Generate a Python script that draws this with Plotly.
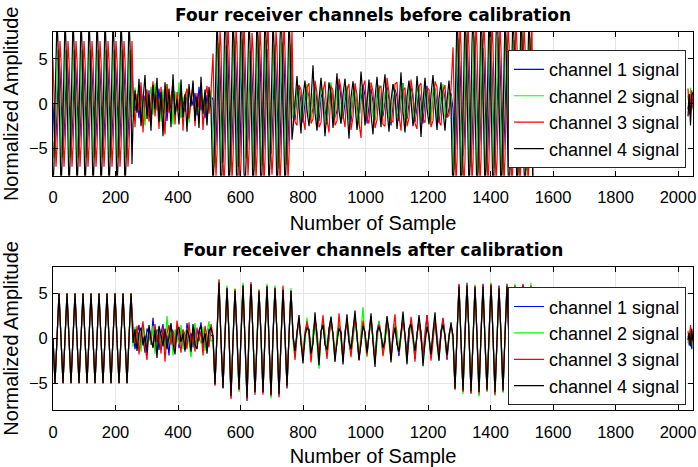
import plotly.graph_objects as go

# ---------------- data (sample index grids + channel values) ----------------
X_TICKS = [0, 200, 400, 600, 800, 1000, 1200, 1400, 1600, 1800, 2000]
Y_TICKS = [-5, 0, 5]
CHANNEL_NAMES = ["channel 1 signal", "channel 2 signal", "channel 3 signal", "channel 4 signal"]
CHANNEL_COLORS = ["#0000ff", "#00ff00", "#ff0000", "#000000"]

# segment (start sample, sample step) for each block of values
TOP_SPEC = [(0, 3.2), (256, 6.4), (512, 3.2), (768, 6.4), (1280, 3.2), (2032, 4)]
BOTTOM_SPEC = [(0, 6.4), (256, 6.4), (512, 6.4), (768, 6.4), (1280, 6.4), (2032, 4)]

# ----- before calibration -----
before_ch1_a = [0,-3.5,-5,-3.5,0,3.5,5,3.5, 0,-3.5,-5,-3.5,0,3.5,5,3.5, 0,-3.5,-5,-3.5,0,3.5,5,3.5,
                0,-3.5,-5,-3.5,0,3.5,5,3.5, 0,-3.5,-5,-3.5,0,3.5,5,3.5, 0,-3.5,-5,-3.5,0,3.5,5,3.5,
                0,-3.5,-5,-3.5,0,3.5,5,3.5, 0,-3.5,-5,-3.5,0,3.5,5,3.5, 0,-3.5,-5,-3.5,0,3.5,5,3.5,
                0,-3.5,-5,-3.5,0,3.5,5,3.5]
before_ch2_a = [-4.2,-6,-4.2,0,4.2,6,4.2,0, -4.2,-6,-4.2,0,4.2,6,4.2,0, -4.2,-6,-4.2,0,4.2,6,4.2,0,
                -4.2,-6,-4.2,0,4.2,6,4.2,0, -4.2,-6,-4.2,0,4.2,6,4.2,0, -4.2,-6,-4.2,0,4.2,6,4.2,0,
                -4.2,-6,-4.2,0,4.2,6,4.2,0, -4.2,-6,-4.2,0,4.2,6,4.2,0, -4.2,-6,-4.2,0,4.2,6,4.2,0,
                -4.2,-6,-4.2,0,4.2,6,4.2,0]
before_ch3_a = [4.9,0,-4.9,-7,-4.9,0,4.9,7, 4.9,0,-4.9,-7,-4.9,0,4.9,7, 4.9,0,-4.9,-7,-4.9,0,4.9,7,
                4.9,0,-4.9,-7,-4.9,0,4.9,7, 4.9,0,-4.9,-7,-4.9,0,4.9,7, 4.9,0,-4.9,-7,-4.9,0,4.9,7,
                4.9,0,-4.9,-7,-4.9,0,4.9,7, 4.9,0,-4.9,-7,-4.9,0,4.9,7, 4.9,0,-4.9,-7,-4.9,0,4.9,7,
                4.9,0,-4.9,-7,-4.9,0,4.9,7]
before_ch4_a = [-9.5,-6.7,0,6.7,9.5,6.7,0,-6.7, -9.5,-6.7,0,6.7,9.5,6.7,0,-6.7, -9.5,-6.7,0,6.7,9.5,6.7,0,-6.7,
                -9.5,-6.7,0,6.7,9.5,6.7,0,-6.7, -9.5,-6.7,0,6.7,9.5,6.7,0,-6.7, -9.5,-6.7,0,6.7,9.5,6.7,0,-6.7,
                -9.5,-6.7,0,6.7,9.5,6.7,0,-6.7, -9.5,-6.7,0,6.7,9.5,6.7,0,-6.7, -9.5,-6.7,0,6.7,9.5,6.7,0,-6.7,
                -9.5,-6.7,0,6.7,9.5,6.7,0,-6.7]

before_ch1_b = [1.2,-0.8,0.5,-1.6,1.9,-0.3,0.9,-1.2,1.5,-1.8,
                0.4,1.1,-0.6,1.7,-1.4,0.2,1.3,-1.9,0.8,-0.5,
                1.6,-1.1,0.3,1.8,-1.5,0.6,-0.9,1.4,-1.7,0.9,
                -0.2,1.2,-1.3,1.9,-0.7,0.5,-1.6,1.0,-0.4,0.8]
before_ch2_b = [-1.5,1.8,-0.6,2.1,-1.9,0.7,-2.4,1.3,-0.4,1.9,
                -1.2,2.3,-0.8,0.5,-2.0,1.6,-1.1,2.2,-0.3,1.0,
                -2.3,1.4,-0.9,2.4,-1.6,0.8,-0.2,1.7,-2.1,0.6,
                1.9,-1.3,0.4,-1.8,2.0,-0.7,1.2,-2.2,0.9,1.5]
before_ch3_b = [2.0,-2.6,1.1,-0.7,2.4,-3.2,0.8,1.6,-2.0,0.3,
                2.5,-1.4,1.0,-2.8,1.9,-0.5,-3.4,2.2,-1.0,0.6,
                2.6,-2.3,1.3,-0.8,2.1,-3.0,0.9,1.7,-1.6,0.2,
                2.3,-2.5,1.2,-0.4,1.8,-2.9,0.7,2.0,-1.1,1.4]
before_ch4_b = [-2.2,1.5,-1.0,2.8,-2.5,0.4,3.2,-1.7,1.0,-3.0,
                2.1,-0.6,2.9,-2.0,1.3,-3.6,2.4,-0.9,1.7,-2.6,
                3.3,-1.2,0.5,-2.3,2.7,-1.5,1.1,-3.1,2.2,-0.3,
                2.6,-1.9,0.8,-2.7,3.0,-1.1,1.6,-2.4,1.9,-0.6]

before_ch1_c = [0.5,-3.6,-5.5,-4.2,0.3,4.5,6.0,3.8, -0.4,-4.8,-6.5,-4.1,0.8,4.2,6.4,4.9,
                0.2,-4.5,-6.1,-3.9,-0.5,4.6,5.7,4.0, 0.7,-5.2,-7.0,-4.6,0.4,4.8,6.9,4.3,
                -0.6,-3.4,-5.0,-3.8,0.9,3.9,5.3,3.2, 0.3,-4.9,-6.6,-4.3,-0.2,4.7,6.3,4.8,
                0.6,-4.0,-5.9,-4.4,0.5,4.1,6.1,4.0, -0.3,-3.8,-5.6,-3.7,0.2,4.4,5.8,3.6,
                0.4,-4.7,-6.4,-4.5,-0.6,4.5,6.6,4.6, 0.8,-4.1,-6.0,-4.0,0.1,4.3,5.9,3.1]
before_ch2_c = [-4.8,-7.1,-5.2,0.4,4.9,6.8,5.1,-0.3, -4.4,-6.6,-4.7,-0.5,4.3,6.5,4.8,0.6,
                -5.5,-7.6,-5.1,0.2,5.2,7.4,5.6,-0.4, -4.9,-7.0,-4.6,0.7,5.0,7.2,4.7,0.3,
                -4.0,-6.1,-4.5,-0.2,4.4,5.9,4.1,0.5, -5.3,-7.5,-5.4,0.3,5.5,7.6,5.0,-0.6,
                -4.7,-6.9,-5.0,0.6,4.8,7.1,4.9,0.2, -4.6,-6.4,-4.3,-0.3,4.5,6.6,4.4,0.4,
                -5.1,-7.2,-4.8,0.5,5.1,6.9,5.3,-0.2, -4.8,-6.8,-4.9,0.1,4.6,6.7,4.7,0.3]
before_ch3_c = [5.6,0.3,-5.8,-8.1,-5.5,0.4,5.9,8.2, 6.4,-0.5,-6.2,-9.0,-6.5,-0.2,6.3,9.1,
                6.0,0.6,-5.9,-8.6,-6.1,0.3,5.8,8.4, 6.7,-0.3,-6.8,-9.6,-6.6,0.5,6.9,9.4,
                5.5,0.2,-5.7,-8.0,-5.6,-0.4,5.6,7.9, 6.1,0.5,-6.0,-8.4,-5.9,0.2,6.2,8.6,
                6.3,-0.4,-6.4,-9.1,-6.3,0.6,6.4,8.9, 5.7,0.1,-5.6,-7.9,-5.8,-0.3,5.5,8.1,
                6.4,0.4,-6.3,-9.0,-6.4,0.2,6.5,9.2, 5.9,-0.2,-6.1,-8.5,-5.9,0.3,6.0,8.3]
before_ch4_c = [-9.4,-6.6,0.5,6.8,9.6,6.5,-0.3,-6.9, -10.4,-7.5,-0.4,7.3,10.6,7.6,0.6,-7.2,
                -10.1,-7.0,0.3,7.1,9.9,6.9,-0.5,-7.1, -11.0,-7.8,0.6,7.9,11.1,7.7,0.2,-7.6,
                -9.3,-6.7,-0.2,6.6,9.5,6.8,0.4,-6.5, -10.0,-7.1,0.4,7.0,10.1,7.2,-0.6,-7.0,
                -10.6,-7.4,-0.3,7.5,10.4,7.3,0.5,-7.4, -9.6,-6.5,0.2,6.7,9.4,6.6,-0.4,-6.8,
                -10.1,-7.2,0.6,7.0,10.0,7.1,0.3,-7.0, -9.8,-6.9,-0.5,6.9,9.7,6.8,0.2,-4.0]

before_ch1_d = [0.4,-1.8,0.9,2.0,-0.3,-2.1,0.2,1.6,0.8,-1.4,
                -0.5,2.2,0.1,-1.9,0.7,1.4,-0.6,-2.3,0.5,1.9,
                0.3,-1.5,-0.8,2.4,0.6,-1.7,0.2,1.8,-0.4,-2.0,
                1.0,1.5,-0.2,-1.6,0.4,2.1,0.9,-2.2,-0.3,1.7,
                0.2,-1.8,0.6,2.0,-0.7,-1.4,0.3,1.9,0.5,-2.4,
                -0.1,1.6,0.8,-1.9,0.4,2.3,-0.5,-1.7,0.1,1.8,
                0.6,-2.0,-0.4,1.5,0.2,-2.2,0.7,2.0,-0.3,-1.6,
                0.9,1.7,-0.2,-2.1,0.3,1.9,0.5,-1.5,-0.6,1.2]
before_ch2_d = [-1.6,-1.2,1.8,1.5,-2.0,-0.9,1.4,2.2,-1.3,-1.8,
                1.1,1.7,-2.4,-1.0,2.0,1.3,-1.5,-2.1,0.9,2.4,
                -1.1,-1.6,1.9,1.2,-2.2,-0.7,1.6,2.0,-1.8,-1.3,
                1.2,1.8,-1.0,-2.5,1.7,1.4,-1.9,-1.1,2.3,0.9,
                -1.4,-1.9,1.5,2.1,-2.1,-0.8,1.3,1.6,-1.7,-2.0,
                2.2,1.1,-1.2,-1.5,1.0,2.3,-2.3,-1.2,1.8,1.4,
                -1.6,-1.7,1.4,2.0,-1.9,-0.9,2.1,1.3,-1.1,-2.2,
                1.6,1.7,-2.0,-1.4,1.1,2.2,-1.5,-1.0,1.3,0.8]
before_ch3_d = [1.9,-2.0,-2.4,2.1,1.6,-1.5,-2.9,1.8,2.3,-2.2,
                -1.7,2.6,1.2,-2.6,-2.1,1.4,2.5,-1.8,-3.2,2.0,
                1.5,-2.4,-1.9,2.8,1.7,-1.3,-2.6,1.6,2.2,-2.9,
                -1.5,2.3,1.0,-2.1,-3.8,1.9,2.6,-1.6,-2.2,2.4,
                1.4,-2.7,-1.8,1.7,2.0,-2.3,-2.5,2.9,1.3,-1.9,
                -2.0,2.2,2.4,-1.4,-3.0,1.5,1.8,-2.5,-1.6,2.7,
                1.1,-2.2,-2.8,2.0,2.3,-1.7,-2.1,1.8,1.6,-2.6,
                -1.9,2.5,1.9,-2.0,-2.4,1.4,2.1,-1.5,-1.3,1.6]
before_ch4_d = [-2.8,0.6,3.1,-0.4,-3.3,0.9,2.6,-0.7,-2.5,0.3,
                4.3,-1.0,-3.0,0.5,2.9,0.2,-3.6,-0.6,2.4,1.1,
                -2.7,0.4,3.4,-0.8,-2.2,1.0,2.8,-0.3,-3.9,0.7,
                2.5,0.1,-2.9,-0.5,3.6,0.8,-2.4,0.2,2.7,-1.1,
                -3.4,0.6,3.0,-0.2,-2.6,1.2,3.3,-0.6,-3.1,0.4,
                2.2,0.9,-2.8,-0.4,3.5,-0.9,-3.2,0.8,2.6,0.3,
                -2.5,-0.7,3.1,0.5,-3.7,0.2,2.9,-0.5,-2.3,1.0,
                3.2,-0.1,-2.9,0.6,2.4,-0.8,-3.0,0.3,2.6,-0.4]

before_ch1_e = [-0.5,-4.3,-6.2,-4.0,0.4,3.9,5.6,4.1, 0.6,-3.9,-5.8,-4.4,-0.3,4.6,6.4,4.5,
                -0.2,-4.6,-6.6,-4.1,0.7,4.0,5.9,3.7, 0.3,-3.7,-5.5,-3.9,-0.4,4.4,6.2,4.6,
                0.5,-4.4,-6.3,-4.5,0.2,4.2,5.7,3.9, -0.6,-4.1,-5.9,-3.8,0.6,4.7,6.5,4.3,
                0.2,-4.5,-6.4,-4.2,-0.5,3.8,5.5,4.0, 0.7,-3.8,-5.7,-4.3,0.3,4.5,6.3,4.4,
                -0.3,-4.7,-6.5,-4.0,0.5,4.1,6.0,3.8, 0.4,-4.0,-6.1,-4.4,-0.2,4.3,5.8,4.2, 0.1]
before_ch2_e = [-5.2,-7.4,-5.5,0.3,5.0,7.3,5.4,-0.4, -5.6,-7.9,-5.3,-0.5,5.5,7.8,5.2,0.6,
                -4.9,-7.1,-5.0,0.4,5.3,7.5,5.6,0.2, -5.4,-7.7,-5.7,-0.3,5.1,7.2,5.0,-0.6,
                -5.3,-7.6,-5.2,0.6,5.6,7.9,5.5,0.3, -5.0,-7.2,-5.4,-0.2,5.2,7.4,5.1,-0.5,
                -5.7,-8.0,-5.6,0.5,5.4,7.6,5.3,0.4, -5.1,-7.3,-4.9,-0.4,5.0,7.1,5.4,0.2,
                -5.5,-7.8,-5.5,0.3,5.7,8.0,5.6,-0.3, -5.2,-7.5,-5.3,0.1,5.3,7.4,4.8,0.0, -4.9]
before_ch3_e = [6.3,0.4,-6.2,-8.9,-6.4,-0.3,6.1,9.0, 6.6,-0.5,-6.5,-9.3,-6.2,0.6,6.4,9.2,
                6.0,0.3,-6.3,-8.8,-6.5,-0.2,6.6,9.4, 6.5,-0.4,-6.0,-9.1,-6.3,0.5,6.2,8.8,
                6.2,0.6,-6.6,-9.4,-6.1,-0.4,6.5,9.3, 6.4,-0.2,-6.1,-8.7,-6.6,0.3,6.3,9.1,
                6.1,0.5,-6.4,-9.2,-6.0,-0.6,6.0,8.9, 6.7,-0.3,-6.3,-9.0,-6.4,0.2,6.6,9.5,
                6.3,0.4,-6.5,-9.3,-6.2,-0.5,6.2,9.0, 6.4,-0.1,-6.2,-8.9,-6.5,0.3,6.1,8.7, -8.5]
before_ch4_e = [-10.2,-7.1,0.4,7.2,10.1,7.0,-0.5,-7.3, -10.5,-7.4,-0.3,7.5,10.6,7.3,0.6,-7.0,
                -9.8,-6.9,0.5,6.8,9.7,7.1,-0.2,-7.2, -10.4,-7.3,-0.6,7.4,10.3,7.4,0.3,-7.5,
                -10.0,-7.0,0.2,7.1,10.2,6.9,-0.4,-6.8, -10.6,-7.5,0.6,7.3,10.5,7.5,0.2,-7.4,
                -9.9,-7.2,-0.4,6.9,9.8,7.2,-0.6,-7.1, -10.3,-7.0,0.3,7.6,10.4,7.1,0.5,-7.3,
                -10.1,-7.4,-0.2,7.0,10.0,7.3,-0.3,-7.2, -9.7,-6.8,0.4,7.2,9.9,6.6,0.1,-6.5, -9.5]

before_ch1_f = [-0.6, 0.8, -1.0, 0.5, -0.3]
before_ch2_f = [0.9, -0.4, 1.8, -0.7, 0.6]
before_ch3_f = [1.7, -1.2, 0.6, 1.5, -0.5]
before_ch4_f = [-1.4, 1.1, -2.4, 0.9, 1.3]

# ----- after calibration -----
after_all_a = [0,-5,0,5, 0,-5,0,5, 0,-5,0,5, 0,-5,0,5, 0,-5,0,5,
               0,-5,0,5, 0,-5,0,5, 0,-5,0,5, 0,-5,0,5, 0,-5,0,5]

after_ch1_b = [0.8,-1.2,0.4,1.5,-0.9,0.2,-1.6,1.1,0.5,-0.7,
               2.3,-0.4,1.0,-1.3,0.6,1.6,-0.8,0.3,-1.9,1.2,
               0.7,-0.5,1.4,-1.1,0.2,0.9,-1.5,1.7,-0.3,0.6,
               -1.0,1.3,-0.6,0.4,1.8,-1.2,0.5,-0.9,1.1,0.3]
after_ch2_b = [-0.9,1.3,-0.2,0.7,-1.5,1.6,0.4,-1.1,0.9,-0.6,
               1.4,-1.7,0.3,1.2,-0.8,0.5,-1.3,2.5,-0.4,0.8,
               -1.9,1.0,0.2,-0.7,1.5,-1.2,0.6,1.1,-0.5,-2.1,
               0.9,1.7,-1.0,0.4,-0.6,1.3,-1.4,0.7,1.9,-0.3]
after_ch3_b = [1.1,-0.6,1.4,-1.8,0.5,1.9,-0.9,-2.4,1.2,0.3,
               -1.1,1.6,-0.4,0.8,-1.7,1.3,-2.6,0.6,1.5,-0.7,
               0.9,-1.4,2.0,-0.2,-1.6,1.0,0.4,-1.2,1.8,-0.8,
               0.7,-1.5,1.2,-0.3,0.8,-1.9,1.4,0.2,-1.0,1.6]
after_ch4_b = [-0.5,1.0,-1.4,0.6,1.2,-0.8,0.3,-1.6,1.5,-0.2,
               -1.0,0.9,-2.2,1.4,0.4,-0.9,1.1,-1.2,0.2,1.7,
               -0.6,-1.8,0.8,1.3,-0.4,0.5,-1.3,1.0,0.3,-1.5,
               1.6,-0.7,-1.2,0.9,1.4,-0.5,0.6,-1.7,0.8,1.2]

after_ch1_c = [0.3,-5.2,0.5,6.3, -0.4,-5.6,0.2,5.7, 0.6,-6.6,-0.3,5.4, 0.4,-5.8,0.1,6.0, -0.5,-7.0,0.6,6.1,
               0.2,-6.3,-0.4,5.3, 0.5,-6.1,0.3,5.9, -0.2,-6.5,0.4,5.7, 0.3,-6.4,-0.5,5.5, 0.6,-5.6,0.2,5.4]
after_ch2_c = [-0.2,-5.0,0.4,6.5, 0.3,-5.4,-0.3,5.9, 0.5,-6.4,0.2,5.6, -0.4,-6.0,0.6,6.2, 0.1,-6.6,-0.2,6.0,
               0.4,-6.2,0.3,5.5, -0.3,-5.9,0.5,6.1, 0.2,-6.7,-0.4,5.9, 0.6,-6.2,0.1,5.7, -0.1,-5.4,0.3,5.6]
after_ch3_c = [0.4,-5.3,0.2,6.6, -0.3,-5.5,0.5,5.6, 0.2,-6.8,-0.4,5.5, 0.5,-5.7,0.2,5.8, -0.2,-6.8,0.4,6.3,
               0.3,-6.1,-0.5,5.4, 0.2,-6.3,0.6,5.8, -0.4,-6.4,0.3,5.6, 0.5,-6.6,-0.2,5.9, 0.3,-5.5,0.4,5.3]
after_ch4_c = [0.1,-5.1,0.3,6.2, -0.2,-5.5,0.4,5.6, 0.3,-6.4,-0.2,5.3, 0.2,-5.7,0.3,5.9, -0.3,-6.6,0.5,6.0,
               0.2,-6.0,-0.3,5.2, 0.4,-6.0,0.2,5.8, -0.1,-6.3,0.3,5.6, 0.4,-6.2,-0.3,5.4, 0.2,-5.3,0.3,5.3]

after_ch1_d = [0.5,-1.9,0.8,2.1, -0.3,-2.2,0.4,1.6, 1.0,-1.5,-0.4,2.4, 0.2,-2.6,0.7,1.8, -0.6,-1.7,1.1,2.2,
               0.3,-2.0,-0.2,1.5, 0.8,-2.4,0.5,2.0, -0.4,-1.6,0.9,2.5, 0.1,-2.1,-0.5,1.7, 0.6,-1.8,0.3,2.3,
               -0.2,-2.5,0.8,1.9, 0.4,-1.4,-0.3,2.1, 0.9,-2.2,0.2,1.6, -0.5,-2.0,0.6,2.4, 0.3,-1.7,1.0,1.8,
               -0.1,-2.3,0.4,2.0, 0.7,-1.9,-0.4,2.6, 0.2,-2.2,0.5,1.7, -0.3,-1.6,0.8,2.2, 0.4,-2.4,0.1,1.5]
after_ch2_d = [-0.3,-2.2,0.6,1.8, 0.4,-1.7,-0.5,2.3, 0.2,-2.4,0.9,1.6, -0.6,-3.4,0.3,2.1, 0.8,-1.9,-0.2,2.5,
               0.1,-2.6,0.7,1.7, -0.4,-2.0,0.5,2.2, 0.6,-1.5,-0.3,1.9, 0.3,-2.3,0.8,3.5, -0.2,-2.1,0.4,1.6,
               0.5,-2.5,-0.6,2.0, 0.2,-1.8,0.7,2.4, -0.5,-2.2,0.3,1.7, 0.9,-1.6,-0.1,2.3, 0.1,-2.7,0.6,1.8,
               -0.3,-2.0,0.4,2.1, 0.5,-2.3,-0.4,1.6, 0.3,-1.9,0.8,2.4, -0.6,-2.5,0.2,1.9, 0.4,-2.1,0.5,1.3]
after_ch3_d = [0.6,-2.4,0.3,2.3, -0.5,-1.8,0.7,1.9, 0.4,-2.7,-0.2,2.2, 0.8,-2.0,0.5,2.6, -0.3,-2.3,0.2,1.8,
               0.6,-1.7,-0.6,2.8, 0.2,-2.6,0.9,1.7, -0.4,-2.1,0.3,2.3, 0.7,-2.5,-0.1,2.0, 0.3,-1.9,0.6,2.5,
               -0.2,-2.8,0.4,1.6, 0.5,-2.0,-0.5,2.2, 0.1,-2.4,0.8,2.7, -0.6,-1.6,0.3,1.9, 0.4,-2.3,-0.2,2.4,
               0.8,-2.6,0.5,1.8, -0.3,-1.8,0.7,2.6, 0.2,-2.5,-0.4,2.1, 0.6,-2.0,0.3,2.3, -0.1,-2.2,0.5,1.4]
after_ch4_d = [0.2,-1.4,0.6,2.6, -0.5,-2.8,0.3,1.2, 0.9,-1.7,-0.6,2.9, 0.1,-3.0,0.8,1.5, -0.7,-1.3,1.0,2.4,
               0.4,-2.6,-0.4,1.1, 0.6,-2.9,0.2,2.7, -0.3,-1.2,0.9,3.1, 0.2,-2.4,-0.6,1.4, 0.7,-1.6,0.4,2.8,
               -0.4,-3.2,0.7,1.3, 0.5,-1.1,-0.2,2.5, 0.8,-2.7,0.1,1.2, -0.6,-1.5,0.6,3.0, 0.3,-2.9,1.1,1.6,
               0.1,-1.4,0.3,2.6, 0.6,-3.1,-0.5,1.3, 0.2,-1.8,0.7,2.9, -0.4,-2.5,0.8,1.5, 0.3,-1.9,0.1,1.8]

after_ch1_e = [0.3,-5.6,0.4,6.0, -0.2,-5.9,0.5,6.2, 0.4,-6.1,-0.3,5.8, 0.2,-6.3,0.6,6.1, -0.4,-5.8,0.3,6.0,
               0.5,-6.2,-0.2,5.9, 0.3,-6.0,0.4,6.1, -0.3,-5.7,0.2,5.8, 0.6,-6.1,-0.4,6.0, 0.2,-5.8,0.5,5.7, -6.3]
after_ch2_e = [-0.2,-5.8,0.5,5.9, 0.3,-6.2,-0.4,6.1, 0.5,-5.9,0.2,6.0, -0.3,-6.5,0.4,5.8, 0.2,-6.0,-0.2,6.2,
               0.4,-6.4,0.3,5.7, -0.5,-6.1,0.6,6.0, 0.3,-5.8,-0.3,6.1, 0.2,-6.3,0.4,5.9, -0.2,-5.9,0.3,6.2, -5.8]
after_ch3_e = [0.4,-5.7,0.2,6.1, -0.3,-6.0,0.6,6.0, 0.3,-6.2,-0.5,5.9, 0.5,-6.1,0.3,6.0, -0.2,-5.9,0.4,6.1,
               0.3,-6.3,-0.3,5.8, 0.5,-5.9,0.2,6.0, -0.4,-5.8,0.5,5.9, 0.3,-6.0,-0.2,6.1, 0.4,-5.7,0.3,5.9, -6.0]
after_ch4_e = [0.1,-5.6,0.3,5.8, -0.2,-5.8,0.4,5.9, 0.2,-5.9,-0.3,5.7, 0.3,-6.0,0.4,5.8, -0.3,-5.7,0.2,5.9,
               0.3,-6.0,-0.2,5.6, 0.4,-5.8,0.3,5.8, -0.2,-5.6,0.3,5.7, 0.4,-5.9,-0.3,5.8, 0.2,-5.6,0.4,5.6, -5.9]

after_ch1_f = [0.3, -0.8, 0.6, -1.2, 0.2]
after_ch2_f = [-0.5, 0.9, -0.7, 0.4, -1.0]
after_ch3_f = [0.8, -0.4, 1.5, -0.6, 0.5]
after_ch4_f = [-0.2, 0.6, -0.9, 1.1, -0.3]

BEFORE = [
    [before_ch1_a, before_ch1_b, before_ch1_c, before_ch1_d, before_ch1_e, before_ch1_f],
    [before_ch2_a, before_ch2_b, before_ch2_c, before_ch2_d, before_ch2_e, before_ch2_f],
    [before_ch3_a, before_ch3_b, before_ch3_c, before_ch3_d, before_ch3_e, before_ch3_f],
    [before_ch4_a, before_ch4_b, before_ch4_c, before_ch4_d, before_ch4_e, before_ch4_f],
]
AFTER = [
    [after_all_a, after_ch1_b, after_ch1_c, after_ch1_d, after_ch1_e, after_ch1_f],
    [after_all_a, after_ch2_b, after_ch2_c, after_ch2_d, after_ch2_e, after_ch2_f],
    [after_all_a, after_ch3_b, after_ch3_c, after_ch3_d, after_ch3_e, after_ch3_f],
    [after_all_a, after_ch4_b, after_ch4_c, after_ch4_d, after_ch4_e, after_ch4_f],
]


def build(segments, spec):
    xs, ys = [], []
    for i, (vals, (start, step)) in enumerate(zip(segments, spec)):
        if i == len(segments) - 1:      # data gap before the last short block
            xs.append(None)
            ys.append(None)
        xs.extend(start + step * k for k in range(len(vals)))
        ys.extend(vals)
    return xs, ys


FONT = "Liberation Sans, Arial, Helvetica, sans-serif"

fig = go.Figure()
for i in range(4):
    x, y = build(BEFORE[i], TOP_SPEC)
    fig.add_trace(go.Scatter(x=x, y=y, mode="lines", name=CHANNEL_NAMES[i],
                             line=dict(color=CHANNEL_COLORS[i], width=1.2),
                             xaxis="x", yaxis="y", legend="legend"))
for i in range(4):
    x, y = build(AFTER[i], BOTTOM_SPEC)
    fig.add_trace(go.Scatter(x=x, y=y, mode="lines", name=CHANNEL_NAMES[i],
                             line=dict(color=CHANNEL_COLORS[i], width=1.2),
                             xaxis="x2", yaxis="y2", legend="legend2"))

axis_style = dict(ticks="inside", ticklen=5, tickwidth=1, tickcolor="black",
                  showline=True, linecolor="black", linewidth=1, mirror="ticks",
                  showgrid=True, gridcolor="#e6e6e6", gridwidth=1, zeroline=False,
                  automargin=False,
                  tickfont=dict(family=FONT, size=16.5, color="black"))
xaxis_style = dict(axis_style, range=[0, 2048], tickvals=X_TICKS, ticklabelstandoff=7,
                   title=dict(text="Number of Sample", font=dict(family=FONT, size=20, color="black"),
                              standoff=10))
yaxis_style = dict(axis_style, range=[-8, 8], tickvals=Y_TICKS, ticklabelstandoff=1,
                   title=dict(text="Normalized Amplitude", font=dict(family=FONT, size=20, color="black"),
                              standoff=5))

legend_style = dict(xanchor="left", yanchor="top", x=0.711, bgcolor="white",
                    bordercolor="#262626", borderwidth=1, itemwidth=30, tracegroupgap=0,
                    font=dict(family=FONT, size=18, color="black"))

fig.update_layout(
    width=698, height=467,
    margin=dict(l=52.7, r=5.3, t=32, b=57, autoexpand=False),
    paper_bgcolor="white", plot_bgcolor="white",
    xaxis=dict(xaxis_style, domain=[0, 1], anchor="y"),
    yaxis=dict(yaxis_style, domain=[0.62, 1.0], anchor="x"),
    xaxis2=dict(xaxis_style, domain=[0, 1], anchor="y2"),
    yaxis2=dict(yaxis_style, domain=[0.0, 0.379], anchor="x2"),
    legend=dict(legend_style, y=0.952),
    legend2=dict(legend_style, y=0.3246),
    annotations=[
        dict(text="<b>Four receiver channels before calibration</b>", xref="paper", yref="paper",
             x=0.5, y=1.044, xanchor="center", yanchor="middle", showarrow=False,
             font=dict(family="DejaVu Sans", size=17, color="black")),
        dict(text="<b>Four receiver channels after calibration</b>", xref="paper", yref="paper",
             x=0.5, y=0.4233, xanchor="center", yanchor="middle", showarrow=False,
             font=dict(family="DejaVu Sans", size=17, color="black")),
    ],
    showlegend=True,
)

# remove the browser's default page margin so the figure sits at the window origin
fig.write_html("out.html",
               config={"displayModeBar": False},
               post_script="document.body.style.margin='0px';"
                           "document.documentElement.style.overflow='hidden';")
